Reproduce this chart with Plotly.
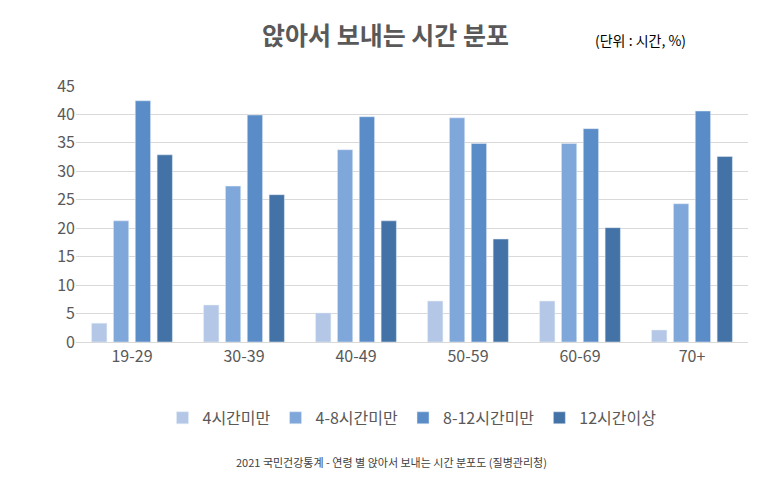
import plotly.graph_objects as go

ages = ["19-29", "30-39", "40-49", "50-59", "60-69", "70+"]
under4 = [3.3, 6.5, 5.1, 7.2, 7.2, 2.1]
h4to8 = [21.3, 27.4, 33.8, 39.4, 34.9, 24.3]
h8to12 = [42.4, 39.9, 39.6, 34.9, 37.5, 40.6]
over12 = [32.9, 25.9, 21.3, 18.1, 20.1, 32.6]

names = ["4시간미만", "4-8시간미만", "8-12시간미만", "12시간이상"]
colors = ["#b4c7e7", "#7fa7d9", "#5a8dc8", "#4373a6"]

fig = go.Figure()
for name, vals, c in zip(names, [under4, h4to8, h8to12, over12], colors):
    fig.add_trace(go.Bar(x=ages, y=vals, name=name, marker_color=c))

fig.update_layout(
    width=767, height=493,
    font=dict(family="Noto Sans CJK KR", color="#595959"),
    paper_bgcolor="white", plot_bgcolor="white",
    barmode="group", bargap=0.22, bargroupgap=0.3,
    margin=dict(l=68, r=27, t=78, b=159),
    legend=dict(orientation="h", x=0.5, xanchor="center", y=-0.23, yanchor="top",
                font=dict(size=16)),
    annotations=[
        dict(text="<b>앉아서 보내는 시간 분포</b>", x=0.46, y=1.0, xref="paper", yref="paper",
             xanchor="center", yanchor="bottom", yshift=32, showarrow=False,
             font=dict(size=25, color="#595959")),
        dict(text="(단위 : 시간, %)", x=0.84, y=1.0, xref="paper", yref="paper",
             xanchor="center", yanchor="bottom", yshift=34, showarrow=False,
             font=dict(size=14, color="#000000")),
        dict(text="2021 국민건강통계 - 연령 별 앉아서 보내는 시간 분포도 (질병관리청)",
             x=0.47, y=-0.43, xref="paper", yref="paper", xanchor="center",
             yanchor="top", showarrow=False, font=dict(size=11, color="#404040")),
    ],
)
fig.update_yaxes(range=[0, 45], dtick=5, gridcolor="#d9d9d9", tickfont=dict(size=16),
                 zeroline=False, ticks="")
fig.update_xaxes(tickfont=dict(size=16), showline=True, linecolor="#d9d9d9")
fig.write_html("out.html")
